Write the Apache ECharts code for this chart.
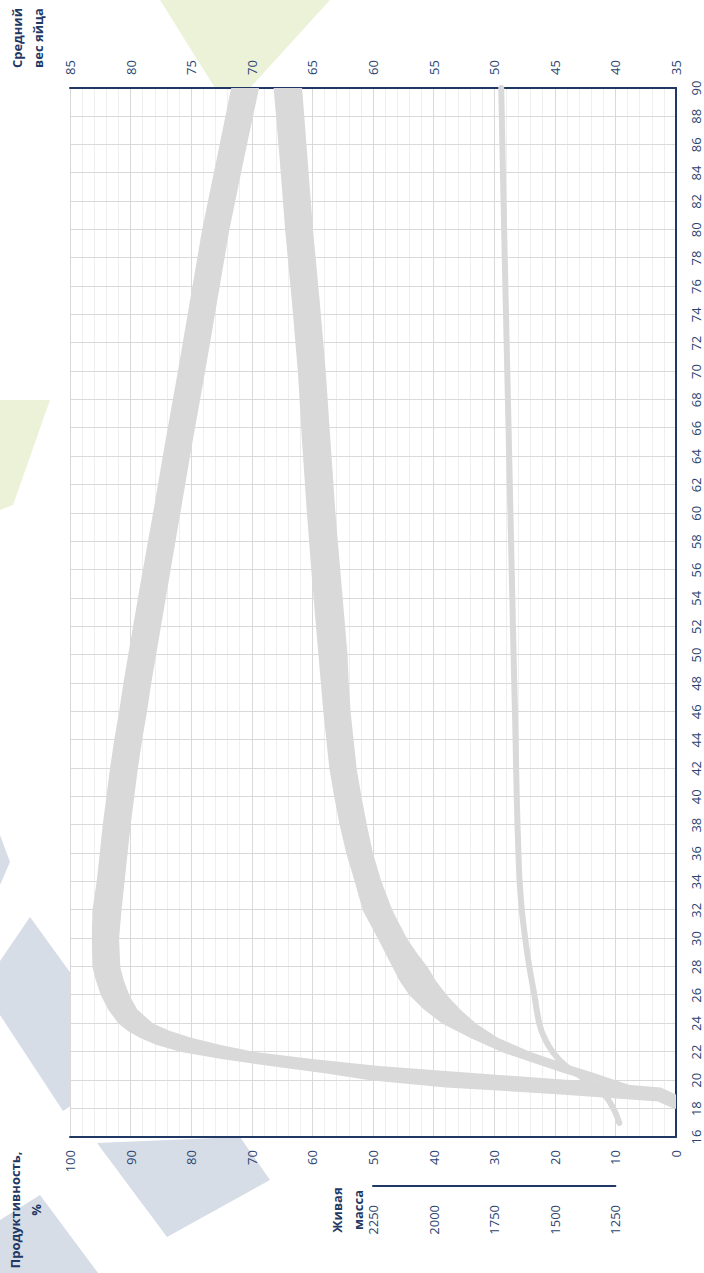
<!DOCTYPE html>
<html><head><meta charset="utf-8">
<script src="https://cdn.jsdelivr.net/npm/echarts@6/dist/echarts.min.js"></script>
<style>
html,body{margin:0;padding:0;width:704px;height:1273px;overflow:hidden;background:#fff;}
#bg{position:absolute;left:0;top:0;width:704px;height:1273px;}
#wrap{position:absolute;left:0;top:0;width:1273px;height:704px;transform-origin:0 0;transform:translate(0,1273px) rotate(-90deg);}
</style></head><body>
<svg id="bg" width="704" height="1273" xmlns="http://www.w3.org/2000/svg">
  <g fill="#d6dde7">
    <polygon points="0,835 10,862 0,885"/>
    <polygon points="0,961 30,917 72,975 72,1105 63,1111 0,1015"/>
    <polygon points="97,1143 240,1137 270,1180 167,1237"/>
    <polygon points="0,1220 40,1195 98,1273 0,1273"/>
  </g>
  <g fill="#ecf2d8">
    <polygon points="160,0 330,0 250,88 215,88"/>
    <polygon points="0,400 50,400 13,505 0,510"/>
  </g>
</svg>
<div id="wrap"></div>
<script>
// ---- Data (week, value) ----
// Productivity, % : lower and upper edge of the band
const prodWeeks = [18, 18.5, 19, 19.5, 20, 20.5, 21, 21.5, 22, 22.5, 23, 23.5, 24, 25, 26, 27, 28, 30, 32, 34, 36, 38, 40, 42, 44, 46, 48, 50, 55, 60, 65, 70, 75, 80, 85, 90];
const prodHigh  = [0.3, 3, 19, 38, 50.5, 58, 67, 75, 81.7, 85.8, 88.5, 90.5, 92, 93.7, 94.9, 95.7, 96.3, 96.4, 96.3, 95.6, 95.1, 94.6, 94.0, 93.4, 92.7, 91.9, 91.2, 90.4, 88.4, 86.3, 84.3, 82.2, 80.2, 78.2, 75.8, 73.4];
const prodLow   = [0, 0, 0, 2.5, 17, 33, 49, 60, 69.5, 75.3, 80, 83.6, 86.3, 88.9, 90.2, 91.1, 91.7, 91.9, 91.5, 91.0, 90.5, 90.0, 89.4, 88.8, 88.1, 87.3, 86.6, 85.8, 83.8, 81.8, 79.8, 77.7, 75.7, 73.7, 71.3, 68.8];

// Average egg weight, g : lower and upper edge of the band
const eggWeeks = [19, 19.5, 20, 20.5, 21, 22, 23, 24, 25, 26, 27, 28, 29, 30, 32, 34, 36, 38, 40, 42, 44, 46, 48, 50, 55, 60, 65, 70, 75, 80, 85, 90];
const eggHigh  = [37.8, 40.0, 42.3, 44.2, 46.0, 49.4, 52.0, 54.3, 55.8, 57.0, 57.8, 58.4, 59.0, 59.6, 60.85, 61.5, 62.2, 62.75, 63.2, 63.6, 63.85, 64.1, 64.3, 64.5, 65.0, 65.45, 65.85, 66.2, 66.7, 67.25, 67.7, 68.2];
const eggLow   = [36.6, 38.2, 40.0, 41.7, 43.6, 47.0, 49.7, 51.5, 52.8, 53.9, 54.8, 55.5, 56.4, 57.2, 58.4, 59.3, 60.0, 60.5, 60.95, 61.35, 61.6, 61.85, 62.0, 62.1, 62.6, 63.1, 63.5, 63.9, 64.4, 64.95, 65.4, 65.85];

// Live weight, g
const liveWeeks  = [17, 18, 19, 20, 21, 22, 23, 24, 26, 28, 30, 32, 34, 36, 40, 45, 50, 60, 70, 80, 90];
const liveWeight = [1234, 1258, 1296, 1371, 1454, 1509, 1543, 1564, 1584, 1605, 1622, 1636, 1645, 1650, 1657, 1663, 1670, 1683, 1696, 1709, 1721];

// Axis ranges / ticks
const weekAxis = { min: 16, max: 90, step: 2 };
const prodAxis = { min: 0, max: 100, step: 10 };
const eggAxis  = { min: 35, max: 85, step: 5 };
const liveAxisShown = { min: 1250, max: 2250, step: 250 };
const liveAxisFull  = { min: 1000, max: 3500 };

const NAVY = '#1f3864';
const LABEL = '#2b4470';
const BAND = '#d9d9d9';
const FONT = '"Open Sans", "Noto Sans", sans-serif';

function bandRenderer(W, LO, HI) {
  return function (params, api) {
    if (params.dataIndex !== 0) return null;
    const pts = [];
    for (let i = 0; i < W.length; i++) pts.push(api.coord([W[i], LO[i]]));
    for (let i = W.length - 1; i >= 0; i--) pts.push(api.coord([W[i], HI[i]]));
    return { type: 'polygon', shape: { points: pts }, style: { fill: BAND } };
  };
}

const chart = echarts.init(document.getElementById('wrap'), null, { renderer: 'svg', width: 1273, height: 704 });
const lbl = { color: LABEL, fontSize: 13, fontFamily: FONT, formatter: function (v) { return String(v); } };

chart.setOption({
  animation: false,
  backgroundColor: 'transparent',
  grid: [
    { left: 136, right: 88, top: 70, bottom: 28, show: true, backgroundColor: '#ffffff', borderWidth: 0 },
    { left: 87, width: 10, top: 373, height: 242.4, show: false }
  ],
  xAxis: [
    { type: 'value', gridIndex: 0, min: weekAxis.min, max: weekAxis.max, interval: weekAxis.step, position: 'bottom',
      axisLine: { show: true, onZero: false, lineStyle: { color: NAVY, width: 2 } },
      axisTick: { show: false },
      axisLabel: Object.assign({ margin: 13 }, lbl),
      splitLine: { show: true, lineStyle: { color: '#d9d9d9', width: 1 } } },
    { type: 'value', gridIndex: 1, min: 0, max: 1, show: false }
  ],
  yAxis: [
    { type: 'value', gridIndex: 0, min: prodAxis.min, max: prodAxis.max, interval: prodAxis.step, position: 'left',
      axisLine: { show: true, onZero: false, lineStyle: { color: NAVY, width: 2 } },
      axisTick: { show: false },
      axisLabel: Object.assign({ margin: 13 }, lbl),
      splitLine: { show: true, lineStyle: { color: '#d9d9d9', width: 1 } },
      minorTick: { show: false, splitNumber: 5 },
      minorSplitLine: { show: true, lineStyle: { color: '#efefef', width: 1 } } },
    { type: 'value', gridIndex: 0, min: eggAxis.min, max: eggAxis.max, interval: eggAxis.step, position: 'right',
      axisLine: { show: true, onZero: false, lineStyle: { color: NAVY, width: 2 } },
      axisTick: { show: false },
      axisLabel: Object.assign({ margin: 13 }, lbl),
      splitLine: { show: false } },
    { type: 'value', gridIndex: 0, min: liveAxisFull.min, max: liveAxisFull.max, show: false, splitLine: { show: false } },
    { type: 'value', gridIndex: 1, min: liveAxisShown.min, max: liveAxisShown.max, interval: liveAxisShown.step, position: 'left',
      axisLine: { show: true, onZero: false, lineStyle: { color: NAVY, width: 2 } },
      axisTick: { show: false },
      axisLabel: Object.assign({ margin: 19 }, lbl),
      splitLine: { show: false } }
  ],
  graphic: [
    { type: 'text', x: 63, y: 4, style: { text: 'Продуктивность,\n%', align: 'center', verticalAlign: 'top', fill: NAVY, fontSize: 13, fontWeight: 'bold', fontFamily: FONT, lineHeight: 21 } },
    { type: 'text', x: 63, y: 326, style: { text: 'Живая\nмасса', align: 'center', verticalAlign: 'top', fill: NAVY, fontSize: 13, fontWeight: 'bold', fontFamily: FONT, lineHeight: 21 } },
    { type: 'text', x: 1235, y: 6, style: { text: 'Средний\nвес яйца', align: 'center', verticalAlign: 'top', fill: NAVY, fontSize: 13, fontWeight: 'bold', fontFamily: FONT, lineHeight: 21 } }
  ],
  series: [
    { name: 'Продуктивность', type: 'custom', coordinateSystem: 'cartesian2d', xAxisIndex: 0, yAxisIndex: 0,
      renderItem: bandRenderer(prodWeeks, prodLow, prodHigh),
      encode: { x: 0, y: [1, 2] },
      data: prodWeeks.map((w, i) => [w, prodLow[i], prodHigh[i]]), z: 3 },
    { name: 'Средний вес яйца', type: 'custom', coordinateSystem: 'cartesian2d', xAxisIndex: 0, yAxisIndex: 1,
      renderItem: bandRenderer(eggWeeks, eggLow, eggHigh),
      encode: { x: 0, y: [1, 2] },
      data: eggWeeks.map((w, i) => [w, eggLow[i], eggHigh[i]]), z: 3 },
    { name: 'Живая масса', type: 'line', xAxisIndex: 0, yAxisIndex: 2,
      data: liveWeeks.map((w, i) => [w, liveWeight[i]]),
      smooth: 0.35, symbol: 'none',
      lineStyle: { color: BAND, width: 6, cap: 'round', join: 'round' }, z: 4 }
  ]
});
</script>
</body></html>
